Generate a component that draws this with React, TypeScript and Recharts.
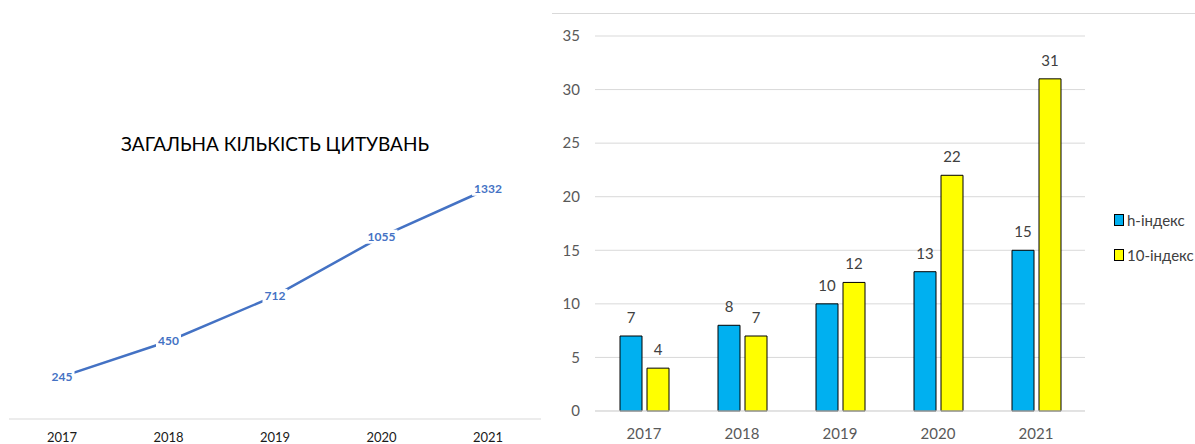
import React from 'react';
import { Bar, BarChart, CartesianGrid, LabelList, Line, LineChart, XAxis, YAxis } from 'recharts';

const years = ['2017', '2018', '2019', '2020', '2021'];
const citations = [245, 450, 712, 1055, 1332];
const hIndex = [7, 8, 10, 13, 15];
const i10Index = [4, 7, 12, 22, 31];
const barTicks = [0, 5, 10, 15, 20, 25, 30, 35];

const seriesNames = { h: 'h-індекс', i10: '10-індекс' };
const font = "Lato, 'Open Sans', sans-serif";

const lineData = years.map((year, i) => ({ year, citations: citations[i] }));
const barData = years.map((year, i) => ({ year, h: hIndex[i], i10: i10Index[i] }));

// Excel-style data label: white box over the line, bold blue number
function PointLabel(props: any) {
  const { x, y, value } = props;
  const w = String(value).length * 7 + 4;
  return (
    <g>
      <rect x={x - w / 2} y={y - 7} width={w} height={14} fill="#fff" />
      <text x={x} y={y + 4} textAnchor="middle" fontFamily={font} fontSize={12} fontWeight="bold" fill="#4472C4">
        {value}
      </text>
    </g>
  );
}

function IndexLegend() {
  const items = [
    { name: seriesNames.h, color: '#00B0F0' },
    { name: seriesNames.i10, color: '#FFFF00' }
  ];
  return (
    <div style={{ position: 'absolute', left: 1114, top: 202, fontFamily: font, fontSize: 15, color: '#404040' }}>
      {items.map((it) => (
        <div key={it.name} style={{ display: 'flex', alignItems: 'center', height: 35 }}>
          <span
            style={{
              display: 'inline-block',
              width: 8,
              height: 10,
              background: it.color,
              border: '1px solid #000',
              marginRight: 3
            }}
          />
          <span>{it.name}</span>
        </div>
      ))}
    </div>
  );
}

export default function App() {
  return (
    <div style={{ position: 'absolute', left: 0, top: 0, width: 1195, height: 444, background: '#fff', overflow: 'hidden' }}>
      <div
        style={{
          position: 'absolute',
          left: 75,
          width: 400,
          top: 132,
          textAlign: 'center',
          fontFamily: font,
          fontSize: 19,
          color: '#000',
          whiteSpace: 'nowrap'
        }}
      >
        ЗАГАЛЬНА КІЛЬКІСТЬ ЦИТУВАНЬ
      </div>
      <div style={{ position: 'absolute', left: 0, top: 0 }}>
        <LineChart width={560} height={444} data={lineData} margin={{ top: 177, right: 19, bottom: 0, left: 9 }}>
          <XAxis
            dataKey="year"
            height={25}
            padding={{ left: 53, right: 53 }}
            tickLine={false}
            tickMargin={8}
            axisLine={{ stroke: '#d9d9d9' }}
            tick={{ fontFamily: font, fontSize: 13, fill: '#1a1a1a' }}
          />
          <YAxis hide domain={[0, 1400]} />
          <Line
            type="linear"
            dataKey="citations"
            stroke="#4472C4"
            strokeWidth={2.5}
            dot={false}
            isAnimationActive={false}
          >
            <LabelList dataKey="citations" content={<PointLabel />} />
          </Line>
        </LineChart>
      </div>
      <div style={{ position: 'absolute', left: 552, top: 13, width: 643, height: 1, background: '#d9d9d9' }} />
      <div style={{ position: 'absolute', left: 540, top: 0 }}>
        <BarChart
          width={655}
          height={444}
          data={barData}
          margin={{ top: 36, right: 110, bottom: 0, left: 0 }}
          barGap={5}
          barSize={22}
        >
          <CartesianGrid vertical={false} stroke="#d9d9d9" />
          <XAxis
            dataKey="year"
            height={33}
            tickLine={false}
            tickMargin={11}
            axisLine={{ stroke: '#d9d9d9' }}
            tick={{ fontFamily: font, fontSize: 15, fill: '#595959' }}
          />
          <YAxis
            width={55}
            domain={[0, 35]}
            ticks={barTicks}
            tickLine={false}
            axisLine={false}
            tickMargin={9}
            tick={{ fontFamily: font, fontSize: 15, fill: '#595959' }}
          />
          <Bar dataKey="h" name={seriesNames.h} fill="#00B0F0" stroke="#000" strokeWidth={1} isAnimationActive={false}>
            <LabelList dataKey="h" position="top" offset={13} fill="#404040" fontFamily={font} fontSize={15} />
          </Bar>
          <Bar dataKey="i10" name={seriesNames.i10} fill="#FFFF00" stroke="#000" strokeWidth={1} isAnimationActive={false}>
            <LabelList dataKey="i10" position="top" offset={13} fill="#404040" fontFamily={font} fontSize={15} />
          </Bar>
        </BarChart>
      </div>
      <IndexLegend />
    </div>
  );
}
